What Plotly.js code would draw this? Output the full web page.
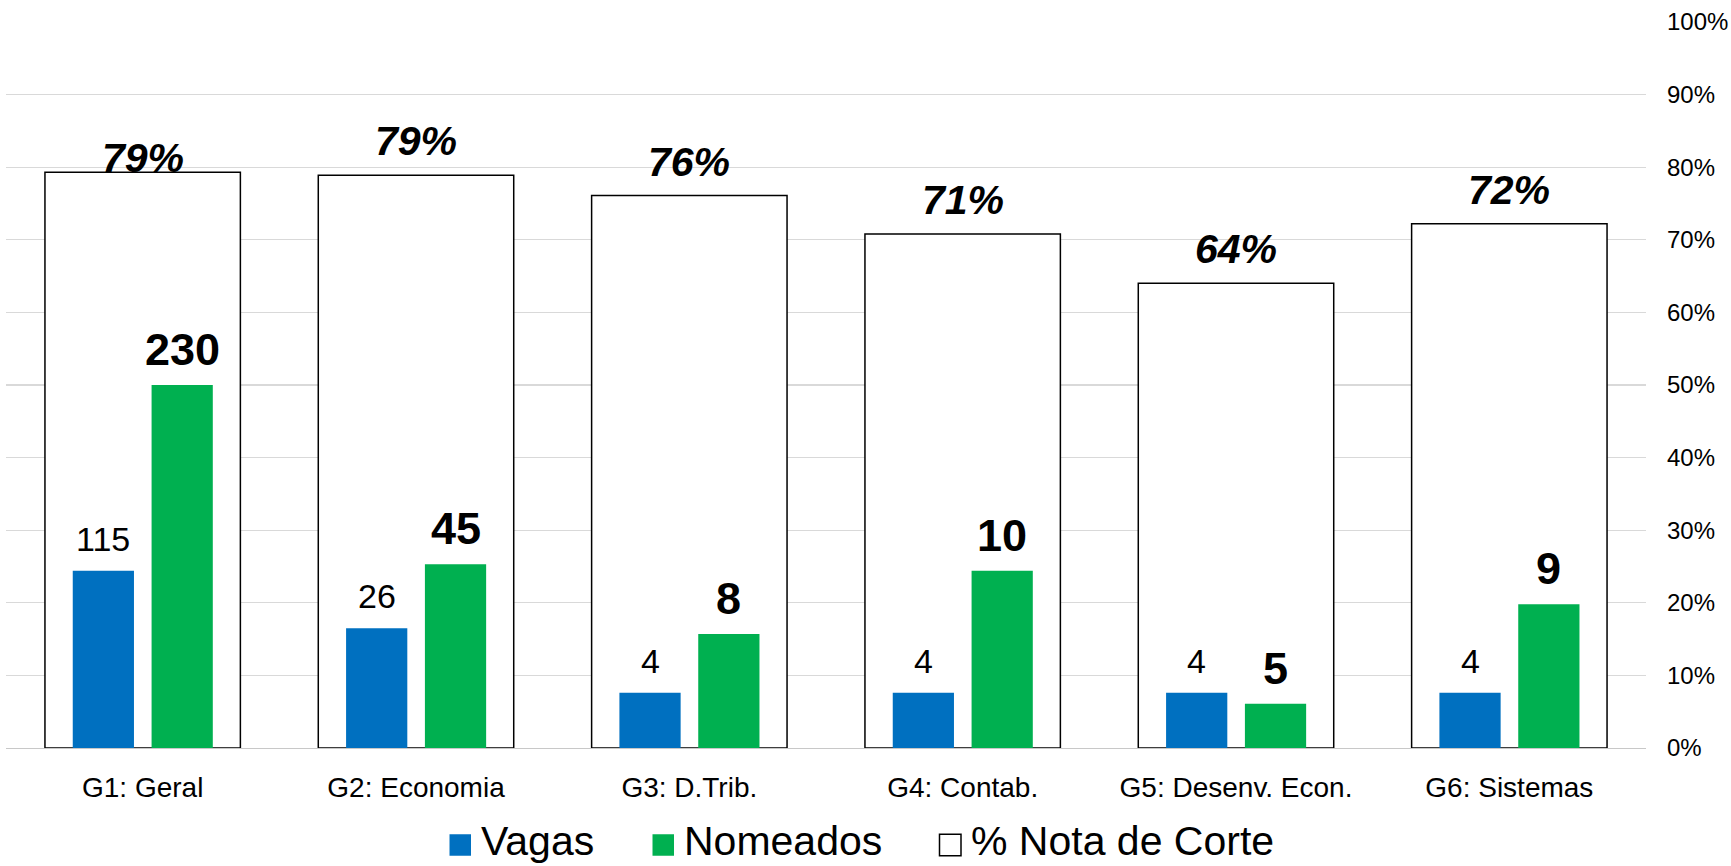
<!DOCTYPE html>
<html>
<head>
<meta charset="utf-8">
<script src="https://cdn.plot.ly/plotly-3.0.1.min.js"></script>
<style>
  html, body { margin: 0; padding: 0; background: #ffffff; }
  #chart { width: 1731px; height: 866px; }
</style>
</head>
<body>
<div id="chart"></div>
<script>
// ---- Data ----
const categories = ['G1: Geral', 'G2: Economia', 'G3: D.Trib.', 'G4: Contab.', 'G5: Desenv. Econ.', 'G6: Sistemas'];
const pctCorte = [0.793, 0.789, 0.761, 0.708, 0.640, 0.722];
const pctLabels = ['79%', '79%', '76%', '71%', '64%', '72%'];
const vagas = [115, 26, 4, 4, 4, 4];
const nomeados = [230, 45, 8, 10, 5, 9];
// bar heights as drawn on the hidden secondary scale
const vagasBarHeight = [0.244, 0.165, 0.076, 0.076, 0.076, 0.076];
const nomeadosBarHeight = [0.500, 0.253, 0.157, 0.244, 0.061, 0.198];
const yTickVals = [0, 0.1, 0.2, 0.3, 0.4, 0.5, 0.6, 0.7, 0.8, 0.9, 1.0];

// ---- Style / geometry ----
const FONT = 'Arial, "Liberation Sans", Helvetica, sans-serif';
const BLUE = '#0070C0';
const GREEN = '#00B050';
const M = {l: 6, r: 85, t: 22, b: 118};
const W = 1731, H = 866;
const PW = W - M.l - M.r, PH = H - M.t - M.b;
const boxW = 0.715, boxOff = -boxW / 2;
const barW = 0.224, vOff = -0.2558, nOff = 0.0326;
const pctLabelShift = {0: -20};

const traces = [
  {
    type: 'bar', name: '% Nota de Corte', x: categories, y: pctCorte,
    width: boxW, offset: boxOff,
    marker: {color: '#ffffff', line: {color: '#000000', width: 1.5}},
    showlegend: false, hoverinfo: 'x+y'
  },
  {
    type: 'bar', name: 'Vagas', x: categories, y: vagasBarHeight, yaxis: 'y2',
    width: barW, offset: vOff, customdata: vagas,
    marker: {color: BLUE, line: {width: 0}},
    showlegend: false, hovertemplate: '%{x}: %{customdata}<extra>Vagas</extra>'
  },
  {
    type: 'bar', name: 'Nomeados', x: categories, y: nomeadosBarHeight, yaxis: 'y2',
    width: barW, offset: nOff, customdata: nomeados,
    marker: {color: GREEN, line: {width: 0}},
    showlegend: false, hovertemplate: '%{x}: %{customdata}<extra>Nomeados</extra>'
  }
];

const annotations = [];
categories.forEach((c, i) => {
  annotations.push({
    x: i, y: pctCorte[i], xref: 'x', yref: 'y', text: '<b><i>' + pctLabels[i] + '</i></b>',
    showarrow: false, xanchor: 'center', yanchor: 'bottom',
    yshift: 9 + (pctLabelShift[i] || 0),
    font: {family: FONT, size: 41, color: '#000000'}
  });
  annotations.push({
    x: i + vOff + barW / 2, y: vagasBarHeight[i], xref: 'x', yref: 'y2', text: String(vagas[i]),
    showarrow: false, xanchor: 'center', yanchor: 'bottom', yshift: 11,
    font: {family: FONT, size: 34, color: '#000000'}
  });
  annotations.push({
    x: i + nOff + barW / 2, y: nomeadosBarHeight[i], xref: 'x', yref: 'y2', text: '<b>' + nomeados[i] + '</b>',
    showarrow: false, xanchor: 'center', yanchor: 'bottom', yshift: 8,
    font: {family: FONT, size: 45, color: '#000000'}
  });
});

// ---- manual legend (large squares like the reference) ----
const px2x = px => (px - M.l) / PW;
const py2y = py => (M.t + PH - py) / PH;
const legendItems = [
  {label: 'Vagas', fill: BLUE, line: BLUE, sq: 449.5},
  {label: 'Nomeados', fill: GREEN, line: GREEN, sq: 652.5},
  {label: '% Nota de Corte', fill: '#ffffff', line: '#000000', sq: 939.5}
];
const SQ = 21.5, LEG_CY = 845;
const shapes = [];
legendItems.forEach(it => {
  shapes.push({
    type: 'rect', xref: 'paper', yref: 'paper',
    x0: px2x(it.sq), x1: px2x(it.sq + SQ), y0: py2y(LEG_CY + SQ / 2), y1: py2y(LEG_CY - SQ / 2),
    fillcolor: it.fill, line: {color: it.line, width: it.fill === '#ffffff' ? 1.5 : 0}
  });
  annotations.push({
    x: px2x(it.sq + SQ + 8), y: py2y(LEG_CY - 4), xref: 'paper', yref: 'paper',
    text: it.label, showarrow: false, xanchor: 'left', yanchor: 'middle',
    font: {family: FONT, size: 41, color: '#000000'}
  });
});

const layout = {
  width: W, height: H,
  margin: M,
  paper_bgcolor: '#ffffff', plot_bgcolor: '#ffffff',
  barmode: 'overlay',
  showlegend: false,
  font: {family: FONT, color: '#000000'},
  xaxis: {
    type: 'category', showgrid: false, zeroline: false,
    showline: true, linecolor: '#C8C8C8', linewidth: 1.3,
    ticks: '', ticklabelstandoff: 14,
    tickfont: {family: FONT, size: 28, color: '#000000'}
  },
  yaxis: {
    range: [0, 1], side: 'right', tickvals: yTickVals, tickformat: '.0%',
    showgrid: true, gridcolor: '#D9D9D9', gridwidth: 1.3, zeroline: false,
    showline: false, ticks: '', ticklabelstandoff: 20,
    tickfont: {family: FONT, size: 24, color: '#000000'}
  },
  yaxis2: {
    range: [0, 1], overlaying: 'y', side: 'left', visible: false,
    showgrid: false, zeroline: false
  },
  annotations: annotations,
  shapes: shapes
};

Plotly.newPlot('chart', traces, layout, {displayModeBar: false, staticPlot: true});
</script>
</body>
</html>
